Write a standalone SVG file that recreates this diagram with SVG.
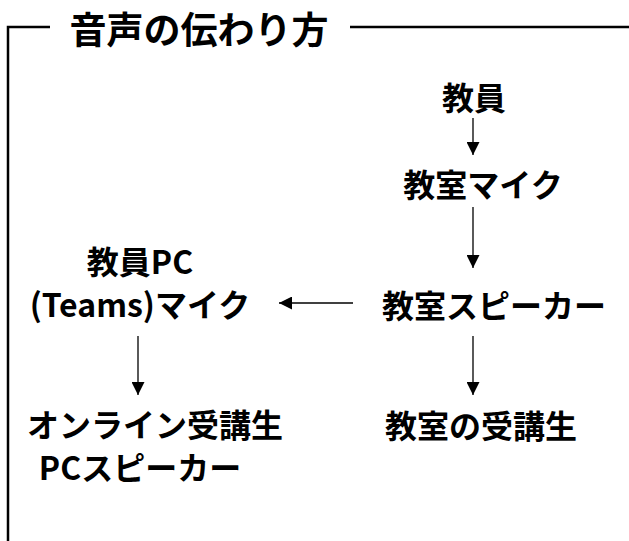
<svg xmlns="http://www.w3.org/2000/svg" width="629" height="541" viewBox="0 0 629 541">
<style>
text{font-family:"Noto Sans CJK JP","Noto Sans",sans-serif;font-weight:bold;fill:#000;text-anchor:middle;dominant-baseline:central}
.t{font-size:32px}
.h{font-size:37px}
.c{stroke:#000;stroke-width:1.3;fill:none}
.f{stroke:#000;stroke-width:2.5;fill:none}
</style>
<defs>
<marker id="ah" viewBox="0 0 10 10" refX="10" refY="5" markerWidth="13" markerHeight="13" markerUnits="userSpaceOnUse" orient="auto">
<path d="M0,0 L10,5 L0,10 z" fill="#000"/>
</marker>
</defs>
<g id="frame">
<path class="f" d="M8,541 V27 H50 M350,27 H629"/>
<text class="h" x="199" y="28">音声の伝わり方</text>
</g>
<g id="n1"><text class="t" x="474" y="96">教員</text></g>
<g id="n2"><text class="t" x="483" y="183">教室マイク</text></g>
<g id="n3"><text class="t" x="494" y="304">教室スピーカー</text></g>
<g id="n4"><text class="t" x="140" y="260">教員PC</text><text class="t" x="140" y="303">(Teams)マイク</text></g>
<g id="n5"><text class="t" x="481" y="424">教室の受講生</text></g>
<g id="n6"><text class="t" x="155" y="423">オンライン受講生</text><text class="t" x="140" y="466">PCスピーカー</text></g>
<g id="connectors">
<line class="c" x1="473" y1="118" x2="473" y2="155" marker-end="url(#ah)"/>
<line class="c" x1="473" y1="207" x2="473" y2="268" marker-end="url(#ah)"/>
<line class="c" x1="353" y1="303" x2="279" y2="303" marker-end="url(#ah)"/>
<line class="c" x1="473" y1="336" x2="473" y2="395" marker-end="url(#ah)"/>
<line class="c" x1="138" y1="336" x2="138" y2="395" marker-end="url(#ah)"/>
</g>
</svg>
